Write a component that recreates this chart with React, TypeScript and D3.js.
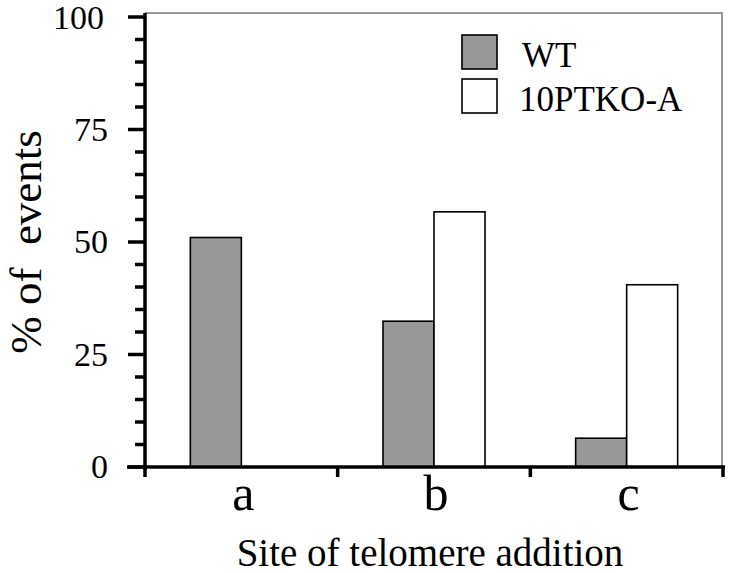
import React from "react";
import * as d3 from "d3";

const categories = ["a", "b", "c"];
const series = ["WT", "10PTKO-A"];
const wtValues = [51, 32.4, 6.4];
const koValues = [0, 56.7, 40.5];
const majorTicks = [0, 25, 50, 75, 100];
const minorTicks = [5, 10, 15, 20, 30, 35, 40, 45, 55, 60, 65, 70, 80, 85, 90, 95];
const seriesFill = ["#989898", "#ffffff"];

const FONT = "Liberation Serif";

export default function App() {
  const W = 750, H = 573;
  const x0 = 145, x1 = 723, yTop = 17, yBot = 467;
  const y = d3.scaleLinear().domain([0, 100]).range([yBot, yTop]);
  const x = d3.scaleBand().domain(categories).range([x0, x1]).padding(0);
  const bw = x.bandwidth();
  const xs = d3.scaleBand().domain(series).range([bw / 2 - 51, bw / 2 + 51]).padding(0);
  const data = [wtValues, koValues];
  const boundaries = [x0, ...categories.map((c) => (x(c) as number) + bw)];
  const txt = { fontFamily: FONT } as React.CSSProperties;

  return (
    <svg width={W} height={H} style={{ position: "absolute", left: 0, top: 0, background: "#fff" }}>
      <line x1={x0} x2={x1} y1={13} y2={13} stroke="#999" strokeWidth={2} />
      <line x1={x1 - 1} x2={x1 - 1} y1={13} y2={yBot} stroke="#999" strokeWidth={2} />
      {categories.map((c, ci) =>
        series.map((s, si) => {
          const v = data[si][ci];
          const bx = (x(c) as number) + (xs(s) as number);
          return v > 0 ? (
            <rect key={c + s} x={bx} y={y(v)} width={xs.bandwidth()} height={y(0) - y(v)}
              fill={seriesFill[si]} stroke="#000" strokeWidth={1.6} />
          ) : null;
        })
      )}
      <line x1={x0} x2={x0} y1={13} y2={yBot + 3} stroke="#000" strokeWidth={3.5} />
      {majorTicks.map((t) => (
        <g key={"M" + t}>
          <line x1={x0 - 17} x2={x0} y1={y(t)} y2={y(t)} stroke="#000" strokeWidth={3.5} />
          <text x={t === 100 ? 104 : 108} y={y(t) + (t === 100 ? 12 : 11)} textAnchor="end" style={txt} fontSize={34}>{t}</text>
        </g>
      ))}
      {minorTicks.map((t) => (
        <line key={"m" + t} x1={x0 - 10} x2={x0} y1={y(t)} y2={y(t)} stroke="#000" strokeWidth={3.5} />
      ))}
      <line x1={127} x2={725} y1={yBot} y2={yBot} stroke="#000" strokeWidth={3.5} />
      {boundaries.map((b, i) => (
        <line key={"b" + i} x1={b} x2={b} y1={yBot} y2={yBot + 10} stroke="#000" strokeWidth={3.5} />
      ))}
      {categories.map((c) => (
        <text key={"l" + c} x={(x(c) as number) + bw / 2 + 2} y={510} textAnchor="middle" style={txt} fontSize={50}>{c}</text>
      ))}
      <text x={430} y={566} textAnchor="middle" style={txt} fontSize={39}>Site of telomere addition</text>
      <text transform={`translate(41, 242) rotate(-90)`} textAnchor="middle" style={{ ...txt, whiteSpace: "pre" }} fontSize={45}>% of  events</text>
      {series.map((s, i) => (
        <g key={"lg" + s} transform={`translate(462, ${35 + i * 44})`}>
          <rect x={0} y={0} width={35} height={34} fill={seriesFill[i]} stroke="#000" strokeWidth={1.6} />
          <text x={i === 0 ? 60 : 57} y={32} style={txt} fontSize={35}>{s}</text>
        </g>
      ))}
    </svg>
  );
}
